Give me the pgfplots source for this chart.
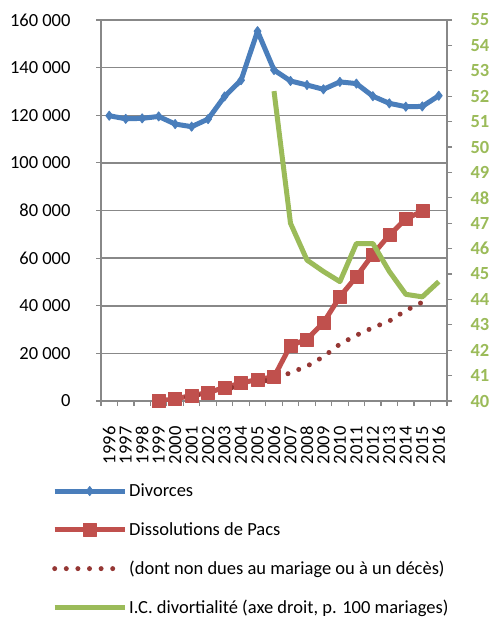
\documentclass[border=0pt]{standalone}
\usepackage{pgfplots}
\pgfplotsset{compat=1.18}
\usepackage{fontspec}
\setmainfont{Carlito}
\definecolor{cblue}{HTML}{4A7EBB}
\definecolor{cred}{HTML}{C0504D}
\definecolor{cdred}{HTML}{953734}
\definecolor{cgreen}{HTML}{9BBB59}
\definecolor{cgrid}{HTML}{888888}
\newcommand{\fs}{\fontsize{18.5bp}{21bp}\selectfont}
\pgfplotsset{dotleg/.style={legend image code/.code={\draw[##1] (0bp,0bp) -- (63bp,0bp);}}}
\begin{document}
\begin{tikzpicture}
\pgfplotsset{
  common/.style={
    scale only axis, width=346bp, height=381bp,
    at={(0,0)}, anchor=south west,
    xmin=1995.5, xmax=2016.5,
    tick align=outside,
    major tick length=5bp,
    every tick/.style={cgrid, line width=1.2bp},
    axis line style={cgrid, line width=1.5bp},
    tick label style={font=\fs},
    scaled y ticks=false,
  },
  legend image code/.code={\draw[mark repeat=2,mark phase=2,#1] plot coordinates {(0bp,0bp) (35bp,0bp) (70bp,0bp)};},
}
\begin{axis}[common,
  axis x line*=bottom, axis y line*=left,
  ymin=0, ymax=160000,
  ytick={0,20000,40000,60000,80000,100000,120000,140000,160000},
  yticklabels={0,20 000,40 000,60 000,80 000,100 000,120 000,140 000,160 000},
  yticklabel style={xshift=-22bp},
  ymajorgrids, grid style={cgrid, line width=1.5bp},
  xtick={1995.5,1996.5,...,2016.5},
  x tick label as interval,
  xticklabels={1996,1997,1998,1999,2000,2001,2002,2003,2004,2005,2006,2007,2008,2009,2010,2011,2012,2013,2014,2015,2016},
  xticklabel style={rotate=90, anchor=east, xshift=-17bp},
  legend style={font=\fs, draw=none, fill=none, inner sep=0pt,
    at={(axis description cs:-0.1416,-0.212)}, anchor=north west,
    row sep=20.3bp, legend cell align=left},
]
\addplot[cblue, line width=5bp, line join=round, mark=diamond*, mark size=4.5bp, mark options={line width=1bp}] coordinates {
(1996,119800) (1997,118500) (1998,118700) (1999,119500) (2000,116300) (2001,115200) (2002,118400) (2003,127900) (2004,134700) (2005,155300) (2006,139000) (2007,134400) (2008,132700) (2009,130900) (2010,134000) (2011,133300) (2012,128000) (2013,125000) (2014,123600) (2015,123700) (2016,128200)};
\addlegendentry{Divorces}
\addplot[cred, line width=5bp, line join=round, mark=square*, mark size=6.5bp, mark options={line width=0.5bp}] coordinates {
(1999,0) (2000,900) (2001,2300) (2002,3500) (2003,5700) (2004,7500) (2005,9100) (2006,10100) (2007,23300) (2008,25900) (2009,32900) (2010,43800) (2011,52200) (2012,61600) (2013,69700) (2014,76400) (2015,79800)};
\addlegendentry{Dissolutions de Pacs}
\addplot[cdred, line width=5bp, line cap=round, dash pattern=on 0bp off 11.6bp, dotleg] coordinates {
(2000,700) (2001,2100) (2002,3300) (2003,4900) (2004,6500) (2005,8000) (2006,9000) (2007,11900) (2008,14600) (2009,18600) (2010,23900) (2011,27600) (2012,30800) (2013,33600) (2014,38000) (2015,41500)};
\addlegendentry{(dont non dues au mariage ou à un décès)}
\addlegendimage{cgreen, line width=5bp}
\addlegendentry{I.C. divortialité (axe droit, p. 100 mariages)}
\end{axis}
\begin{axis}[common,
  axis x line=none, axis y line*=right,
  ymin=40, ymax=55,
  ytick={40,41,...,55},
  yticklabel style={font=\fs\bfseries, text=cgreen, xshift=15bp},
  /pgf/number format/assume math mode=true,
]
\addplot[cgreen, line width=5bp, line join=round] coordinates {
(2006,52.2) (2007,47.0) (2008,45.55) (2009,45.1) (2010,44.7) (2011,46.2) (2012,46.2) (2013,45.1) (2014,44.2) (2015,44.1) (2016,44.7)};
\end{axis}
\pgfresetboundingbox
\path (-101bp,-218bp) rectangle (389bp,401bp);
\end{tikzpicture}
\end{document}
